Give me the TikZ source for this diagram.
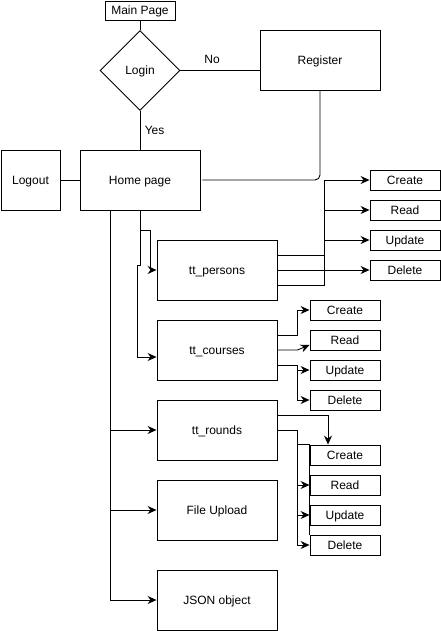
\documentclass[tikz,border=0pt]{standalone}
\usepackage{fontspec}
\setmainfont{Liberation Sans}
\usepackage{xcolor}
\usepackage{tikz}
\usetikzlibrary{calc}
\usetikzlibrary{arrows.meta,shapes.geometric}

\tikzset{
  page/.style={draw, black, line width=0.9pt, inner sep=0pt, minimum width=120pt, minimum height=60pt, text height=10pt, text depth=1pt, font=\fontsize{12}{14}\selectfont},
  crud/.style={page, minimum width=70pt, minimum height=20pt},
  link/.style={black, line width=0.9pt},
  arr/.style={link, -{Stealth[length=9pt, width=8pt, inset=3pt]}}
}

\begin{document}
\begin{tikzpicture}[x=1pt, y=-1pt]

\useasboundingbox (0,0) rectangle (441,631);

% TOP
  \node[page, minimum width=70pt, minimum height=19pt] (mainpage) at (140,10.5) {Main Page};
  \node[page, diamond, minimum width=80pt, minimum height=80pt] (login) at (140,70.5) {Login};
  \node[page] (register) at (320,60) {Register};
  \node[page, minimum width=59pt] (logout) at (30.5,180) {Logout};
  \node[page] (home) at (140,180) {Home page};

  \draw[link] (mainpage.south) -- (login.north);
  \draw[link] (login.east) -- (login.east -| register.west) node[pos=0.4, above=3pt] {\fontsize{12}{14}\selectfont No};
  \draw[link] (login.south) -- (home.north) node[midway, right=1pt] {\fontsize{12}{14}\selectfont Yes};
  \draw[link, rounded corners=5pt] (register.south) |- ([xshift=2pt]home.east);
  \draw[link] (logout.east) -- (home.west);

% TABLES
  \node[page] (persons) at (217,270) {tt\_persons};
  \node[page] (courses) at (217,350) {tt\_courses};
  \node[page] (rounds)  at (217,430) {tt\_rounds};
  \node[page] (upload)  at (217,510) {File Upload};
  \node[page] (json)    at (217,600) {JSON object};

  \draw[arr] (home.south) -- ++(0,20) -- ++(10,0) |- (persons.west);
  \draw[arr] (home.south) -- ++(0,55) -- ++(-3,0) |- ([yshift=-7pt]courses.west);
  \foreach \t in {rounds, upload, json}
      \draw[arr] ([xshift=-30pt]home.south) |- (\t.west);

% CRUD of tt_persons
  \node[crud] (pc) at (405,180) {Create};
  \node[crud] (pr) at (405,210) {Read};
  \node[crud] (pu) at (405,240) {Update};
  \node[crud] (pd) at (405,270) {Delete};

  \draw[arr] ([yshift=15pt]persons.east) -- ++(47,0) |- (pc.west);
  \draw[arr] ([yshift=-15pt]persons.east) -- ++(47,0) |- (pr.west);
  \draw[arr] ([yshift=-15pt]persons.east) -- ++(47,0) |- (pu.west);
  \draw[arr] (persons.east) -- (pd.west);

% CRUD of tt_courses
  \node[crud] (cc) at (345,310) {Create};
  \node[crud] (cr) at (345,340) {Read};
  \node[crud] (cu) at (345,370) {Update};
  \node[crud] (cd) at (345,400) {Delete};

  \draw[arr] ([yshift=15pt]courses.east) -- ++(20,0) |- (cc.west);
  \draw[arr] (courses.east) -- ++(20,0) -- ([yshift=-5pt]cr.west);
  \draw[arr] ([yshift=-15pt]courses.east) -- ++(20,0) |- (cu.west);
  \draw[arr] ([yshift=-15pt]courses.east) -- ++(20,0) |- (cd.west);

% CRUD of tt_rounds
  \node[crud] (rc) at (345,455) {Create};
  \node[crud] (rr) at (345,485) {Read};
  \node[crud] (ru) at (345,515) {Update};
  \node[crud] (rd) at (345,545) {Delete};

  \draw[arr] ([yshift=15pt]rounds.east) -| ([xshift=-17pt]rc.north);
  \draw[link] (rounds.east) -- ++(20,0) |- (rc.north west) -- (rd.north west);
  \foreach \t in {rr, ru, rd}
      \draw[arr] (rounds.east) -- ++(20,0) |- (\t.west);

\end{tikzpicture}
\end{document}
